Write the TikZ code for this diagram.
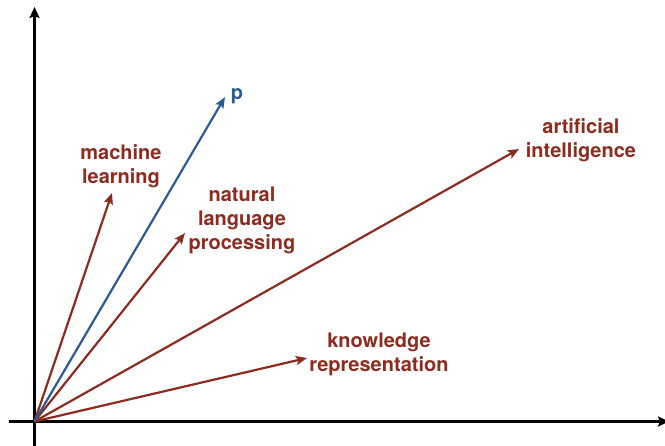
\documentclass[tikz,border=0pt]{standalone}
\usepackage{fontspec}
\setmainfont{TeX Gyre Heros}
\usetikzlibrary{arrows.meta, positioning, calc}

\definecolor{termred}{HTML}{8E2B1F}
\definecolor{queryblue}{HTML}{2C5B94}

\begin{document}
\begin{tikzpicture}[
    x=1pt, y=-1pt,
    axis/.style={-{Stealth[length=11pt, width=10pt, inset=2pt]}, line width=2.6pt, black},
    vec/.style={-{Stealth[length=11pt, width=9pt, inset=2pt]}, line width=2.2pt},
    term/.style={font=\fontsize{20}{24}\selectfont\bfseries, text=termred,
                 align=center, inner sep=0pt},
]
\useasboundingbox (0,0) rectangle (665,446);

% ===================== AXES =====================
\coordinate (o) at (34.5, 421.5);
\coordinate (xend) at (669, 421.5);
\coordinate (yend) at (34.5, 7);
\coordinate (xstart) at (9, 421.5);
\coordinate (ystart) at (34.5, 446);

\draw[axis] (xstart) -- (xend);
\draw[axis] (ystart) -- (yend);

% ===================== TERM VECTORS =====================
\coordinate (ml) at (112, 193);
\coordinate (nlp) at (185, 233);
\coordinate (ai) at (519, 149);
\coordinate (kr) at (307, 358);
\coordinate (p) at (225, 97);

\node[term] (mllabel) at (121, 166) {machine\\learning};
\node[term] (nlplabel) at (242, 220) {natural\\language\\processing};
\node[term] (ailabel) at (581, 140) {artificial\\intelligence};
\node[term] (krlabel) at (379, 354) {knowledge\\representation};
\node[term, text=queryblue] (plabel) at (237, 96) {p};

\draw[vec, termred] (o) -- (ml);
\draw[vec, termred] (o) -- (nlp);
\draw[vec, termred] (o) -- (ai);
\draw[vec, termred] (o) -- (kr);

% query vector
\draw[vec, queryblue] (o) -- (p);

\end{tikzpicture}
\end{document}
